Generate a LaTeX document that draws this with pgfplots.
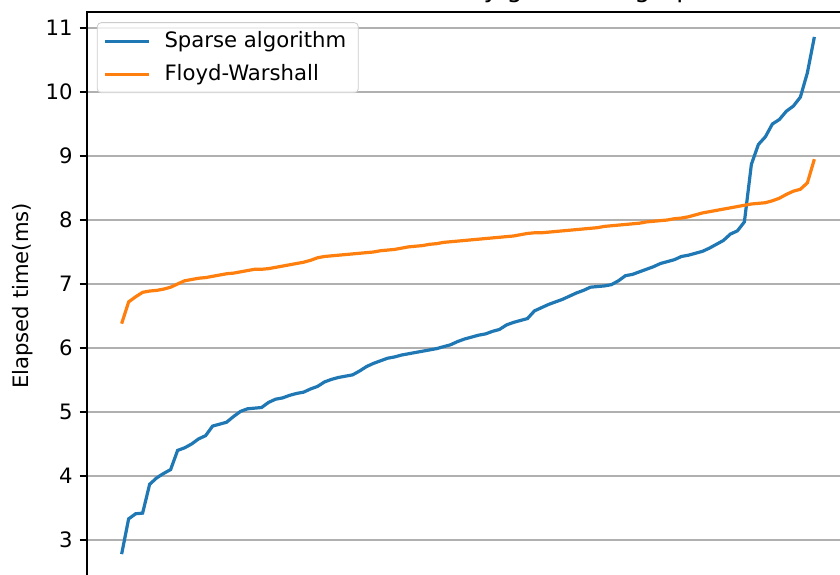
\documentclass[border=0pt]{standalone}
\usepackage{fontspec}
\setmainfont{DejaVu Sans}
\usepackage{pgfplots}
\usepackage{pgfplotstable}
\pgfplotsset{compat=1.18}

\definecolor{mplblue}{HTML}{1F77B4}
\definecolor{mplorange}{HTML}{FF7F0E}
\definecolor{gridgray}{HTML}{B0B0B0}

% Elapsed time (ms) per test graph, each series sorted ascending
\pgfplotstableread{
i  sparse floyd
0  2.78  6.38
1  3.33  6.72
2  3.41  6.80
3  3.42  6.87
4  3.87  6.89
5  3.97  6.90
6  4.04  6.92
7  4.10  6.95
8  4.40  7.00
9  4.44  7.05
10 4.50  7.07
11 4.58  7.09
12 4.63  7.10
13 4.78  7.12
14 4.81  7.14
15 4.84  7.16
16 4.93  7.17
17 5.01  7.19
18 5.05  7.21
19 5.06  7.23
20 5.07  7.23
21 5.15  7.24
22 5.20  7.26
23 5.22  7.28
24 5.26  7.30
25 5.29  7.32
26 5.31  7.34
27 5.36  7.37
28 5.40  7.41
29 5.47  7.43
30 5.51  7.44
31 5.54  7.45
32 5.56  7.46
33 5.58  7.47
34 5.64  7.48
35 5.71  7.49
36 5.76  7.50
37 5.80  7.52
38 5.84  7.53
39 5.86  7.54
40 5.89  7.56
41 5.91  7.58
42 5.93  7.59
43 5.95  7.60
44 5.97  7.62
45 5.99  7.63
46 6.02  7.65
47 6.05  7.66
48 6.10  7.67
49 6.14  7.68
50 6.17  7.69
51 6.20  7.70
52 6.22  7.71
53 6.26  7.72
54 6.29  7.73
55 6.36  7.74
56 6.40  7.75
57 6.43  7.77
58 6.46  7.79
59 6.58  7.80
60 6.63  7.80
61 6.68  7.81
62 6.72  7.82
63 6.76  7.83
64 6.81  7.84
65 6.86  7.85
66 6.90  7.86
67 6.95  7.87
68 6.96  7.88
69 6.97  7.90
70 6.99  7.91
71 7.05  7.92
72 7.13  7.93
73 7.15  7.94
74 7.19  7.95
75 7.23  7.97
76 7.27  7.98
77 7.32  7.99
78 7.35  8.00
79 7.38  8.02
80 7.43  8.03
81 7.45  8.05
82 7.48  8.08
83 7.51  8.11
84 7.56  8.13
85 7.62  8.15
86 7.68  8.17
87 7.78  8.19
88 7.83  8.21
89 7.97  8.23
90 8.87  8.25
91 9.18  8.26
92 9.30  8.27
93 9.50  8.30
94 9.57  8.34
95 9.70  8.40
96 9.78  8.45
97 9.92  8.48
98 10.30 8.58
99 10.86 8.95
}\timings

\begin{document}
\begin{tikzpicture}
\useasboundingbox (-43.5pt,2.84pt) rectangle (376.5pt,289.84pt);
\clip (-43.5pt,2.84pt) rectangle (376.5pt,289.84pt);
\begin{axis}[
  at={(0pt,0pt)}, anchor=south west,
  scale only axis, width=381pt, height=283.85pt,
  xmin=-4.95, xmax=103.95, ymin=2.38, ymax=11.25,
  ytick={3,4,...,11}, xtick=\empty,
  ytick pos=left, tick align=outside,
  major tick length=3.7pt,
  every tick/.style={black, line width=0.85pt},
  axis line style={line width=0.85pt},
  ymajorgrids, grid style={gridgray, line width=0.85pt},
  /pgf/number format/assume math mode=true,
  tick label style={font=\fontsize{10.6}{12.7}\selectfont},
  title={Run time of both methods sorted by growth in graph size and order},
  every axis title/.style={at={(rel axis cs:0.5,1)}, anchor=base, yshift=7.3pt,
    font=\fontsize{12.7}{15}\selectfont},
  ylabel={Elapsed time(ms)},
  ylabel style={at={(rel axis cs:0,0.5)}, anchor=center, yshift=32pt,
    font=\fontsize{10.6}{12.7}\selectfont},
  legend cell align=left,
  legend image code/.code={\draw[#1] (0pt,0pt) -- (22pt,0pt);},
  legend style={at={(rel axis cs:0.013,0.982)}, anchor=north west,
    draw=black!20, rounded corners=2pt, fill=white, fill opacity=0.8,
    text opacity=1, font=\fontsize{10.6}{12.7}\selectfont,
    inner xsep=3pt, inner ysep=2pt, row sep=2pt,
    /tikz/every odd column/.append style={column sep=4pt},
    nodes={inner ysep=2.5pt, inner xsep=3pt}},
]
\addplot[mplblue, line width=1.6pt] table[x=i, y=sparse] {\timings};
\addlegendentry{Sparse algorithm}
\addplot[mplorange, line width=1.6pt] table[x=i, y=floyd] {\timings};
\addlegendentry{Floyd-Warshall}
\end{axis}
\end{tikzpicture}
\end{document}
